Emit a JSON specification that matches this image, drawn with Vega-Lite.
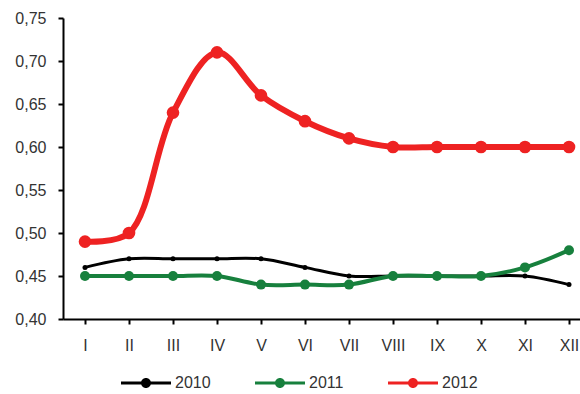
{
  "$schema": "https://vega.github.io/schema/vega-lite/v6.json",
  "autosize": {"type": "none"},
  "padding": {"left": 63, "top": 18, "right": 0, "bottom": 75},
  "width": 528,
  "height": 301,
  "background": "white",
  "config": {"view": {"stroke": null}, "font": "Liberation Sans"},
  "data": {"values": [
    {"m": "I", "s": "2010", "v": 0.46}, {"m": "II", "s": "2010", "v": 0.47}, {"m": "III", "s": "2010", "v": 0.47}, {"m": "IV", "s": "2010", "v": 0.47}, {"m": "V", "s": "2010", "v": 0.47}, {"m": "VI", "s": "2010", "v": 0.46}, {"m": "VII", "s": "2010", "v": 0.45}, {"m": "VIII", "s": "2010", "v": 0.45}, {"m": "IX", "s": "2010", "v": 0.45}, {"m": "X", "s": "2010", "v": 0.45}, {"m": "XI", "s": "2010", "v": 0.45}, {"m": "XII", "s": "2010", "v": 0.44},
    {"m": "I", "s": "2011", "v": 0.45}, {"m": "II", "s": "2011", "v": 0.45}, {"m": "III", "s": "2011", "v": 0.45}, {"m": "IV", "s": "2011", "v": 0.45}, {"m": "V", "s": "2011", "v": 0.44}, {"m": "VI", "s": "2011", "v": 0.44}, {"m": "VII", "s": "2011", "v": 0.44}, {"m": "VIII", "s": "2011", "v": 0.45}, {"m": "IX", "s": "2011", "v": 0.45}, {"m": "X", "s": "2011", "v": 0.45}, {"m": "XI", "s": "2011", "v": 0.46}, {"m": "XII", "s": "2011", "v": 0.48},
    {"m": "I", "s": "2012", "v": 0.49}, {"m": "II", "s": "2012", "v": 0.50}, {"m": "III", "s": "2012", "v": 0.64}, {"m": "IV", "s": "2012", "v": 0.71}, {"m": "V", "s": "2012", "v": 0.66}, {"m": "VI", "s": "2012", "v": 0.63}, {"m": "VII", "s": "2012", "v": 0.61}, {"m": "VIII", "s": "2012", "v": 0.60}, {"m": "IX", "s": "2012", "v": 0.60}, {"m": "X", "s": "2012", "v": 0.60}, {"m": "XI", "s": "2012", "v": 0.60}, {"m": "XII", "s": "2012", "v": 0.60}
  ]},
  "encoding": {
    "x": {"field": "m", "type": "ordinal", "sort": null, "scale": {"paddingInner": 0, "paddingOuter": 0},
      "axis": {"title": null, "labelAngle": 0, "bandPosition": 0, "domainColor": "black", "domainWidth": 2, "tickColor": "black", "tickWidth": 2, "tickSize": 5, "labelFontSize": 16, "labelColor": "#333", "labelPadding": 13, "grid": false}},
    "y": {"field": "v", "type": "quantitative", "scale": {"domain": [0.4, 0.75], "nice": false, "zero": false},
      "axis": {"title": null, "values": [0.4, 0.45, 0.5, 0.55, 0.6, 0.65, 0.7, 0.75], "labelExpr": "replace(format(datum.value, '.2f'), '.', ',')", "domainColor": "black", "domainWidth": 2, "tickColor": "black", "tickWidth": 2, "tickSize": 5, "labelFontSize": 16, "labelColor": "#333", "labelPadding": 12, "grid": false}},
    "color": {"field": "s", "type": "nominal", "scale": {"domain": ["2010", "2011", "2012"], "range": ["#000000", "#17803d", "#ee2222"]},
      "legend": {"title": null, "orient": "none", "legendX": 58, "legendY": 340, "direction": "horizontal", "symbolType": "M-1,-0.06L1,-0.06L1,0.06L-1,0.06Z M0.2,0A0.2,0.2,0,1,1,-0.2,0A0.2,0.2,0,1,1,0.2,0Z", "symbolSize": 2500, "symbolStrokeWidth": 0, "labelFontSize": 16, "labelColor": "#333", "labelOffset": 4, "columnPadding": 44}}
  },
  "layer": [
    {"transform": [{"filter": "datum.s === '2010'"}], "mark": {"type": "line", "interpolate": "catmull-rom", "strokeWidth": 3}},
    {"transform": [{"filter": "datum.s === '2011'"}], "mark": {"type": "line", "interpolate": "catmull-rom", "strokeWidth": 4}},
    {"transform": [{"filter": "datum.s === '2012'"}], "mark": {"type": "line", "interpolate": "catmull-rom", "strokeWidth": 6}},
    {"transform": [{"filter": "datum.s === '2010'"}], "mark": {"type": "point", "filled": true, "opacity": 1, "size": 25}},
    {"transform": [{"filter": "datum.s === '2011'"}], "mark": {"type": "point", "filled": true, "opacity": 1, "size": 100}},
    {"transform": [{"filter": "datum.s === '2012'"}], "mark": {"type": "point", "filled": true, "opacity": 1, "size": 160}}
  ]
}
